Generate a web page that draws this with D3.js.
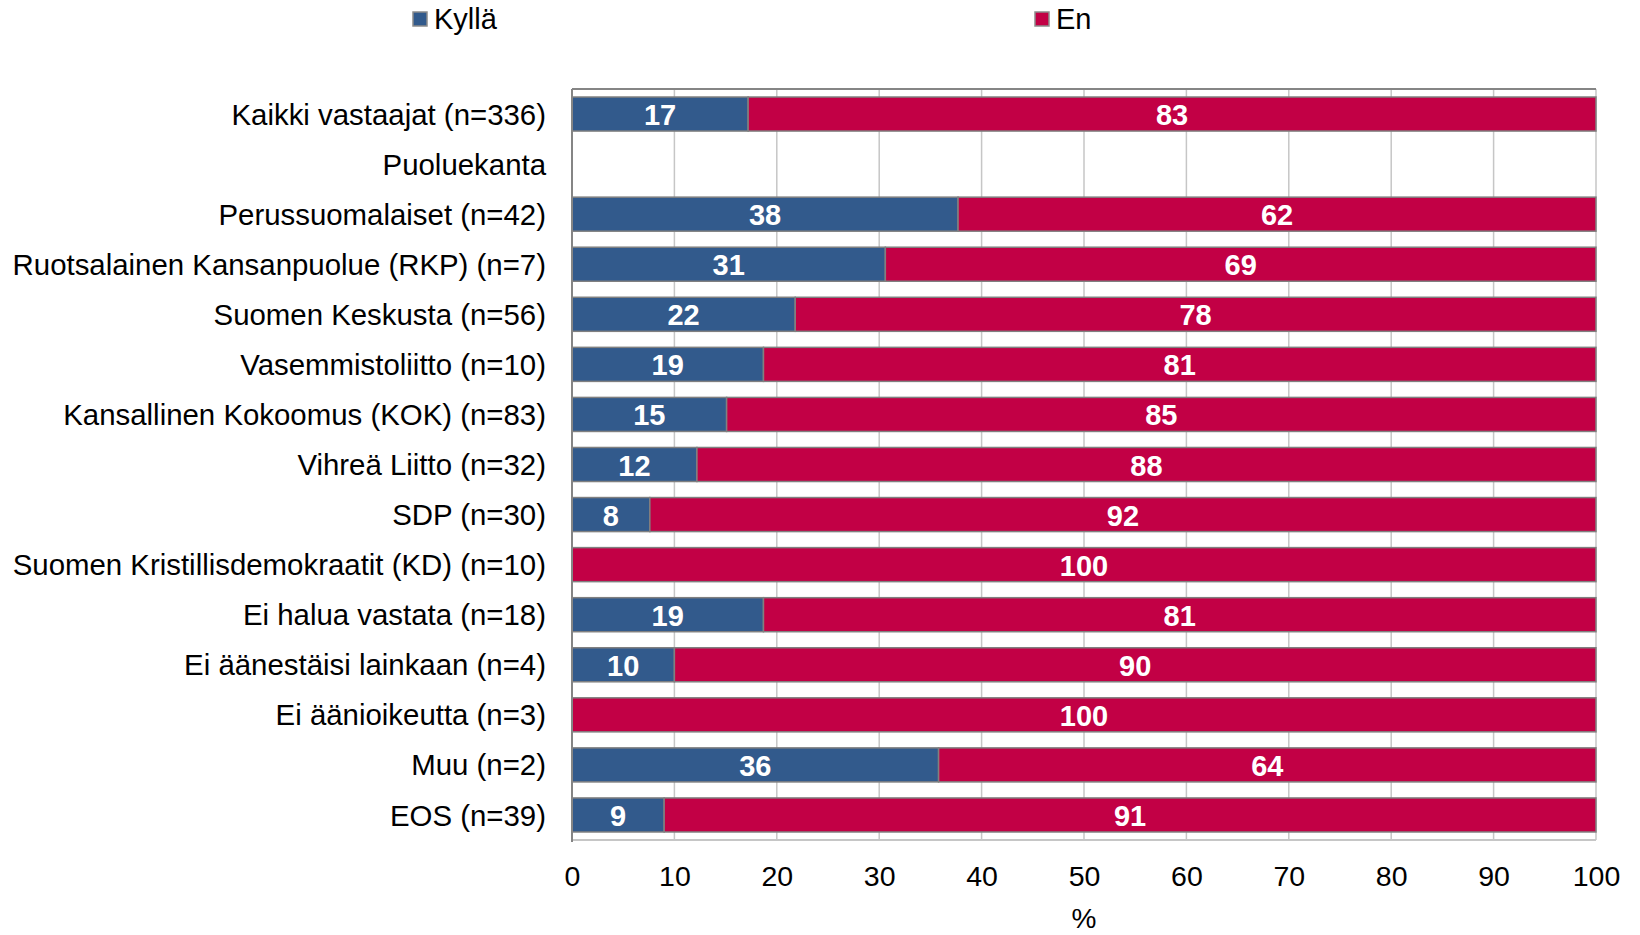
<!DOCTYPE html>
<html>
<head>
<meta charset="utf-8">
<script src="https://cdn.jsdelivr.net/npm/d3@7"></script>
<style>
  body { margin: 0; background: #fff; }
  svg { font-family: "Liberation Sans", Arial, sans-serif; }
</style>
</head>
<body>
<svg id="chart" width="1640" height="935"></svg>
<script>

var categories = [
	"Kaikki vastaajat (n=336)",
	"Puoluekanta",
	"Perussuomalaiset (n=42)",
	"Ruotsalainen Kansanpuolue (RKP) (n=7)",
	"Suomen Keskusta (n=56)",
	"Vasemmistoliitto (n=10)",
	"Kansallinen Kokoomus (KOK) (n=83)",
	"Vihreä Liitto (n=32)",
	"SDP (n=30)",
	"Suomen Kristillisdemokraatit (KD) (n=10)",
	"Ei halua vastata (n=18)",
	"Ei äänestäisi lainkaan (n=4)",
	"Ei äänioikeutta (n=3)",
	"Muu (n=2)",
	"EOS (n=39)"
];

// null = no bar (section heading)
var kylla = [17.2, null, 37.7, 30.6, 21.8, 18.7, 15.1, 12.2, 7.6, 0, 18.7, 10.0, 0, 35.8, 9.0];
var en    = [82.8, null, 62.3, 69.4, 78.2, 81.3, 84.9, 87.8, 92.4, 100, 81.3, 90.0, 100, 64.2, 91.0];

var seriesNames = ["Kyllä", "En"];
var colors = ["#325a8c", "#c20045"];
var xTicks = [0, 10, 20, 30, 40, 50, 60, 70, 80, 90, 100];

var margin = {top: 89, right: 44, bottom: 95, left: 572},
	w = 1640 - margin.left - margin.right,
	h = 935 - margin.top - margin.bottom;

var svg = d3.select("#chart");
var chart = svg.append("g")
	.attr("transform", "translate(" + margin.left + "," + margin.top + ")");

var xScale = d3.scaleLinear().domain([0, 100]).range([0, w]);
var yScale = d3.scaleBand().domain(categories).range([0, h])
	.paddingInner(0.32).paddingOuter(0.16);

// gridlines
chart.append("g")
	.selectAll("line")
	.data(xTicks)
	.enter()
	.append("line")
	.attr("x1", function(d) { return xScale(d); })
	.attr("x2", function(d) { return xScale(d); })
	.attr("y1", 0)
	.attr("y2", h)
	.attr("stroke", "#c6c6c6")
	.attr("stroke-width", 1.5);

// borders
chart.append("line")
	.attr("x1", 0).attr("x2", w).attr("y1", h).attr("y2", h)
	.attr("stroke", "#c6c6c6").attr("stroke-width", 2);
chart.append("line")
	.attr("x1", 0).attr("x2", w).attr("y1", 0).attr("y2", 0)
	.attr("stroke", "#858585").attr("stroke-width", 2);

var rows = categories.map(function(c, i) {
	return {cat: c, k: kylla[i], e: en[i]};
}).filter(function(d) { return d.k !== null; });

var stackData = rows.map(function(d) {
	return [
		{cat: d.cat, x0: 0, x1: d.k, v: d.k, s: 0},
		{cat: d.cat, x0: d.k, x1: d.k + d.e, v: d.e, s: 1}
	];
});
var segs = [].concat.apply([], stackData).filter(function(d) { return d.v > 0; });

chart.append("g")
	.selectAll("rect")
	.data(segs)
	.enter()
	.append("rect")
	.attr("x", function(d) { return xScale(d.x0); })
	.attr("y", function(d) { return yScale(d.cat); })
	.attr("width", function(d) { return xScale(d.x1) - xScale(d.x0); })
	.attr("height", yScale.bandwidth())
	.attr("fill", function(d) { return colors[d.s]; })
	.attr("stroke", "#808080")
	.attr("stroke-width", 1.5);

chart.append("g")
	.selectAll("text")
	.data(segs)
	.enter()
	.append("text")
	.attr("x", function(d) { return (xScale(d.x0) + xScale(d.x1)) / 2; })
	.attr("y", function(d) { return yScale(d.cat) + yScale.bandwidth() / 2; })
	.attr("dy", "0.38em")
	.attr("text-anchor", "middle")
	.attr("fill", "#fff")
	.attr("font-weight", "bold")
	.attr("font-size", "29px")
	.text(function(d) { return Math.round(d.v); });

// y axis
var yAxis = d3.axisLeft(yScale).tickSize(0).tickPadding(26);
var yg = chart.append("g").call(yAxis);
yg.select(".domain").attr("stroke", "#858585").attr("stroke-width", 2)
	.attr("d", "M0,0V" + (h + 2));
yg.selectAll("text").attr("font-size", "29.4px").attr("fill", "#000")
	.attr("dy", "0.36em")
	.attr("font-family", "Liberation Sans, Arial, sans-serif");

// x axis
var xAxis = d3.axisBottom(xScale).tickValues(xTicks).tickSize(0).tickPadding(26);
var xg = chart.append("g").attr("transform", "translate(0," + h + ")").call(xAxis);
xg.select(".domain").remove();
xg.selectAll("text").attr("font-size", "28.5px").attr("fill", "#000")
	.attr("font-family", "Liberation Sans, Arial, sans-serif");

chart.append("text")
	.attr("x", w / 2)
	.attr("y", h + 88)
	.attr("text-anchor", "middle")
	.attr("font-size", "28px")
	.text("%");

// legend
var legendX = [413, 1035];
var legend = svg.append("g").selectAll("g")
	.data(seriesNames)
	.enter()
	.append("g")
	.attr("transform", function(d, i) { return "translate(" + legendX[i] + ",19)"; });
legend.append("rect")
	.attr("x", 0).attr("y", -7)
	.attr("width", 14).attr("height", 14)
	.attr("fill", function(d, i) { return colors[i]; })
	.attr("stroke", "#8c8c8c").attr("stroke-width", 1.5);
legend.append("text")
	.attr("x", 21)
	.attr("dy", "0.36em")
	.attr("font-size", "29px")
	.text(function(d) { return d; });

</script>
</body>
</html>
